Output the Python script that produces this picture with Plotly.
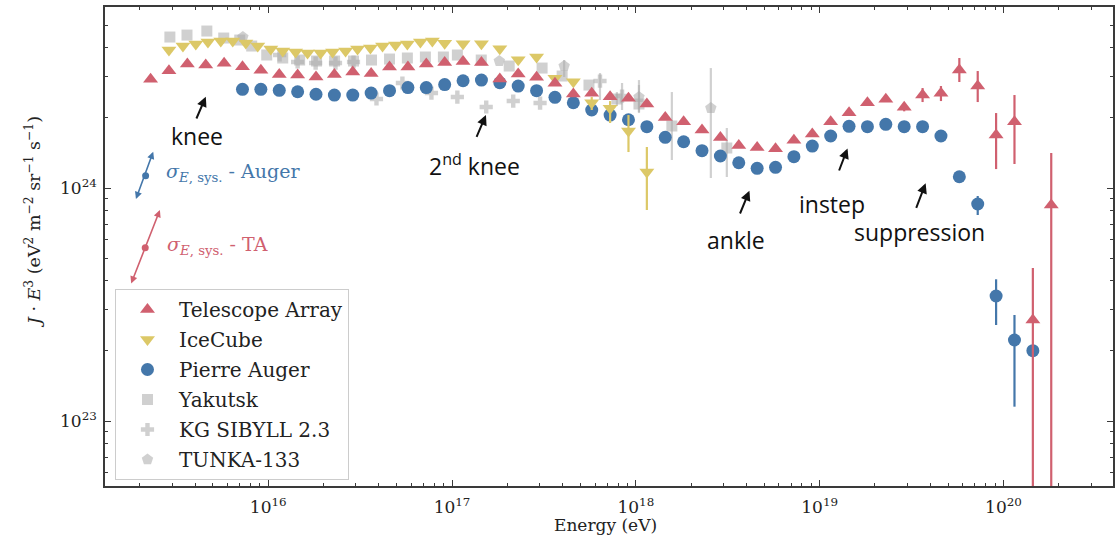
import math
import plotly.graph_objects as go

# ---------------- data (energies as log10(E/eV), flux J*E^3 in units of 1e24 eV^2 m^-2 sr^-1 s^-1)
ta_logE = [15.36, 15.46, 15.56, 15.66, 15.76, 15.86, 15.96, 16.06, 16.16, 16.26,
           16.36, 16.46, 16.56, 16.66, 16.76, 16.86, 16.96, 17.06, 17.16, 17.26,
           17.36, 17.46, 17.56, 17.66, 17.76, 17.86, 17.96, 18.06, 18.16, 18.26,
           18.36, 18.46, 18.56, 18.66, 18.76, 18.86, 18.96, 19.06, 19.16, 19.26,
           19.36, 19.46, 19.56, 19.66, 19.76, 19.86, 19.96, 20.06, 20.16, 20.26]
ta_flux = [2.928, 3.187, 3.406, 3.372, 3.429, 3.316, 3.200, 3.070, 3.055, 2.995,
           3.070, 3.146, 3.099, 3.306, 3.306, 3.406, 3.456, 3.490, 3.456, 2.937,
           3.085, 2.986, 2.814, 2.532, 2.549, 2.465, 2.427, 2.294, 2.007, 1.925,
           1.774, 1.647, 1.522, 1.492, 1.475, 1.602, 1.705, 1.925, 2.105, 2.323,
           2.403, 2.220, 2.507, 2.549, 3.209, 2.740, 1.688, 1.925, 0.2714, 0.8455]
ta_err_idx = [41, 42, 43, 44, 45, 46, 47, 48, 49]
ta_err_lo = [2.134, 2.339, 2.362, 2.851, 2.339, 1.206, 1.268, 0.001, 0.001]
ta_err_hi = [2.310, 2.686, 2.740, 3.614, 3.178, 2.098, 2.507, 0.4536, 1.413]

ic_logE = [15.460, 15.536, 15.606, 15.672, 15.742, 15.807, 15.878, 15.943, 16.014, 16.079,
           16.149, 16.214, 16.285, 16.350, 16.421, 16.486, 16.556, 16.622, 16.692, 16.757,
           16.828, 16.893, 16.96, 17.06, 17.16, 17.26, 17.36, 17.46, 17.56, 17.66,
           17.76, 17.86, 17.96, 18.06]
ic_flux = [3.911, 4.069, 4.150, 4.233, 4.275, 4.275, 4.191, 4.069, 3.950, 3.873,
           3.835, 3.797, 3.797, 3.835, 3.873, 3.950, 3.990, 4.069, 4.109, 4.150,
           4.233, 4.275, 4.178, 4.162, 4.162, 3.957, 3.553, 3.650, 2.957, 2.859,
           2.323, 2.198, 1.757, 1.171]
ic_err_idx = [30, 31, 32, 33]
ic_err_lo = [2.162, 1.901, 1.427, 0.8045]
ic_err_hi = [2.458, 2.362, 2.057, 1.500]

pa_logE = [15.86, 15.96, 16.06, 16.16, 16.26, 16.36, 16.46, 16.56, 16.66, 16.76,
           16.86, 16.96, 17.06, 17.16, 17.26, 17.36, 17.46, 17.56, 17.66, 17.76,
           17.86, 17.96, 18.06, 18.16, 18.26, 18.36, 18.46, 18.56, 18.66, 18.76,
           18.86, 18.96, 19.06, 19.16, 19.26, 19.36, 19.46, 19.56, 19.66, 19.76,
           19.86, 19.96, 20.06, 20.16]
pa_flux = [2.652, 2.652, 2.626, 2.590, 2.527, 2.507, 2.507, 2.557, 2.616, 2.700,
           2.700, 2.781, 2.887, 2.907, 2.831, 2.740, 2.616, 2.451, 2.323, 2.162,
           2.057, 1.964, 1.833, 1.651, 1.580, 1.446, 1.372, 1.284, 1.215, 1.227,
           1.363, 1.514, 1.672, 1.840, 1.833, 1.877, 1.833, 1.833, 1.672, 1.118,
           0.8538, 0.3440, 0.2227, 0.2003]
pa_err_idx = [39, 40, 41, 42]
pa_err_lo = [1.054, 0.7657, 0.2582, 0.1152]
pa_err_hi = [1.175, 0.924, 0.4057, 0.2851]

yk_logE = [15.465, 15.558, 15.666, 15.758, 15.845, 15.910, 15.992, 16.079, 16.171, 16.263,
           16.361, 16.464, 16.562, 16.660, 16.757, 16.855, 16.953, 17.029, 17.159, 17.311,
           17.490, 17.599, 17.745, 17.897, 18.017, 18.196, 18.495]
yk_flux = [4.447, 4.535, 4.719, 4.403, 4.317, 4.069, 3.723, 3.614, 3.543, 3.508,
           3.508, 3.508, 3.543, 3.578, 3.614, 3.650, 3.650, 3.723, 3.543, 3.339,
           3.273, 3.025, 2.767, 2.410, 2.294, 1.846, 1.485]
yk_err_idx = [23, 24, 25, 26]
yk_err_lo = [2.248, 2.098, 1.319, 1.115]
yk_err_hi = [2.582, 2.767, 2.582, 1.810]

kg_logE = [16.062, 16.160, 16.258, 16.366, 16.464, 16.589, 16.730, 16.888, 17.029, 17.186,
           17.333, 17.479, 17.805, 17.925]
kg_flux = [3.723, 3.474, 3.439, 3.439, 3.474, 2.410, 2.823, 2.557, 2.458, 2.227,
           2.362, 2.316, 2.879, 2.482]
kg_err_idx = [12, 13]
kg_err_lo = [2.387, 2.162]
kg_err_hi = [3.115, 2.823]

tk_logE = [15.862, 17.257, 17.610, 18.017, 18.408]
tk_flux = [4.447, 3.508, 3.339, 2.458, 2.204]
tk_err_idx = [2, 3, 4]
tk_err_lo = [2.995, 2.119, 1.104]
tk_err_hi = [3.543, 2.907, 3.273]

x_tick_exp = [16, 17, 18, 19, 20]
y_tick_exp = [23, 24]

# ---------------- styling
C_TA = "#D0606F"
C_IC = "#DCC867"
C_PA = "#4477AA"
C_GR = "rgba(170,170,170,0.55)"
SERIF = "DejaVu Serif"
SANS = "Open Sans"

SCALE = 1e24


def series(logE, flux, idx, lo, hi):
    x = [10 ** v for v in logE]
    y = [f * SCALE for f in flux]
    plus = [0.0] * len(flux)
    minus = [0.0] * len(flux)
    for i, l, h in zip(idx, lo, hi):
        plus[i] = (h - flux[i]) * SCALE
        minus[i] = (flux[i] - l) * SCALE
    return x, y, plus, minus


fig = go.Figure()


def add(name, data, color, symbol, size, rank):
    x, y, plus, minus = series(*data)
    fig.add_trace(go.Scatter(
        x=x, y=y, mode="markers", name=name,
        legendgroup=name, legendrank=rank,
        marker=dict(symbol=symbol, size=size, color=color, line=dict(width=0)),
        error_y=dict(type="data", symmetric=False, array=plus, arrayminus=minus,
                     color=color, thickness=2.2, width=0),
    ))


add("Yakutsk", (yk_logE, yk_flux, yk_err_idx, yk_err_lo, yk_err_hi), C_GR, "square", 11, 4)
add("KG SIBYLL 2.3", (kg_logE, kg_flux, kg_err_idx, kg_err_lo, kg_err_hi), C_GR, "cross", 11, 5)
add("TUNKA-133", (tk_logE, tk_flux, tk_err_idx, tk_err_lo, tk_err_hi), C_GR, "pentagon", 12, 6)
add("Pierre Auger", (pa_logE, pa_flux, pa_err_idx, pa_err_lo, pa_err_hi), C_PA, "circle", 13, 3)
add("IceCube", (ic_logE, ic_flux, ic_err_idx, ic_err_lo, ic_err_hi), C_IC, "triangle-down", 13, 2)
add("Telescope Array", (ta_logE, ta_flux, ta_err_idx, ta_err_lo, ta_err_hi), C_TA, "triangle-up", 13, 1)

# ---------------- axes
X_RANGE = [15.112, 20.596]
Y_RANGE = [22.721, 24.777]
x_minor = [m * 10.0 ** d for d in range(15, 21) for m in range(2, 10)
           if X_RANGE[0] < d + math.log10(m) < X_RANGE[1]]
y_minor = [m * 10.0 ** d for d in range(22, 25) for m in range(2, 10)
           if Y_RANGE[0] < d + math.log10(m) < Y_RANGE[1]]

axis_common = dict(
    type="log", showgrid=False, zeroline=False, showline=True, linecolor="#3a3a3a",
    linewidth=1.6, mirror="ticks", ticks="inside", ticklen=6, tickwidth=1.3,
    tickcolor="#3a3a3a", tickfont=dict(family=SERIF, size=17, color="#222"),
)
fig.update_xaxes(
    range=X_RANGE, tickmode="array",
    tickvals=[10.0 ** e for e in x_tick_exp],
    ticktext=[f"10<sup>{e}</sup>" for e in x_tick_exp],
    ticklabelstandoff=5,
    minor=dict(tickmode="array", tickvals=x_minor, ticks="inside", ticklen=3.5,
               tickwidth=1.1, tickcolor="#3a3a3a", showgrid=False),
    **axis_common,
)
fig.update_yaxes(
    range=Y_RANGE, tickmode="array",
    tickvals=[10.0 ** e for e in y_tick_exp],
    ticktext=[f"10<sup>{e}</sup>" for e in y_tick_exp],
    ticklabelstandoff=3,
    minor=dict(tickmode="array", tickvals=y_minor, ticks="inside", ticklen=3.5,
               tickwidth=1.1, tickcolor="#3a3a3a", showgrid=False),
    **axis_common,
)

# ---------------- annotations (paper coordinates)
L, R, T, B = 105, 2, 7, 55
W, H = 1117, 541
PW, PH = W - L - R, H - T - B


def px(xp):
    return (xp - L) / PW


def py(yp):
    return (H - B - yp) / PH


ann = []
labels = [("knee", 197, 136), ("2<sup>nd</sup> knee", 475, 165), ("ankle", 737, 240),
          ("instep", 833, 204), ("suppression", 921, 232)]
for txt, xx, yy in labels:
    ann.append(dict(text=txt, x=px(xx), y=py(yy), xref="paper", yref="paper",
                    showarrow=False, xanchor="center", yanchor="middle",
                    font=dict(family=SANS, size=23, color="#111")))
arrows = [((206, 96.7), (196, 120)), ((486.7, 115), (476.7, 138.3)),
          ((750.7, 190.7), (740.7, 215)), ((849, 148.5), (840, 172)),
          ((927.3, 183.3), (917.3, 209.3))]
for (hx, hy), (tx, ty) in arrows:
    ann.append(dict(text="", x=px(hx), y=py(hy), xref="paper", yref="paper",
                    showarrow=True, ax=tx - hx, ay=ty - hy, arrowhead=2,
                    arrowsize=1, arrowwidth=2, arrowcolor="#111"))

sig = [(C_PA, " - Auger", 164, 172.5, (153.3, 151.7), (135.5, 200.5), (145.7, 175.7)),
       (C_TA, " - TA", 165, 245, (160, 210), (130.7, 285), (145.3, 247.7))]
shapes = []
for col, tail, tx, ty, (h1x, h1y), (h2x, h2y), (dx, dy) in sig:
    ann.append(dict(text=f"<i>σ</i><sub><i>E</i>, sys.</sub>{tail}", x=px(tx), y=py(ty),
                    xref="paper", yref="paper", showarrow=False, xanchor="left",
                    yanchor="middle", font=dict(family=SERIF, size=19, color=col)))
    ann.append(dict(text="", x=px(h1x), y=py(h1y), xref="paper", yref="paper",
                    showarrow=True, ax=h2x - h1x, ay=h2y - h1y, arrowhead=2,
                    startarrowhead=2, arrowside="end+start", arrowsize=0.9,
                    startarrowsize=0.9, arrowwidth=1.6, arrowcolor=col))
    r = 3.5
    shapes.append(dict(type="circle", xref="paper", yref="paper",
                       x0=px(dx - r), x1=px(dx + r), y0=py(dy + r), y1=py(dy - r),
                       fillcolor=col, line=dict(width=0)))

ann.append(dict(text="<i>J</i> · <i>E</i><sup>3</sup> (eV<sup>2</sup> m<sup>−2</sup> sr<sup>−1</sup> s<sup>−1</sup>)",
                x=px(33), y=py(222), xref="paper", yref="paper", showarrow=False,
                textangle=-90, xanchor="center", yanchor="middle",
                font=dict(family=SERIF, size=17.5, color="#222")))
ann.append(dict(text="Energy (eV)", x=px(606), y=py(525), xref="paper", yref="paper",
                showarrow=False, xanchor="center", yanchor="middle",
                font=dict(family=SERIF, size=17, color="#222")))

fig.update_layout(
    width=W, height=H,
    margin=dict(l=L, r=R, t=T, b=B),
    paper_bgcolor="white", plot_bgcolor="white",
    annotations=ann, shapes=shapes,
    legend=dict(x=px(115), y=py(289), xanchor="left", yanchor="top",
                bgcolor="rgba(255,255,255,0.85)", bordercolor="#cccccc", borderwidth=1,
                font=dict(family=SERIF, size=20, color="#222"),
                traceorder="grouped", tracegroupgap=1, itemwidth=53),
    showlegend=True,
)

fig.write_html("out.html")
